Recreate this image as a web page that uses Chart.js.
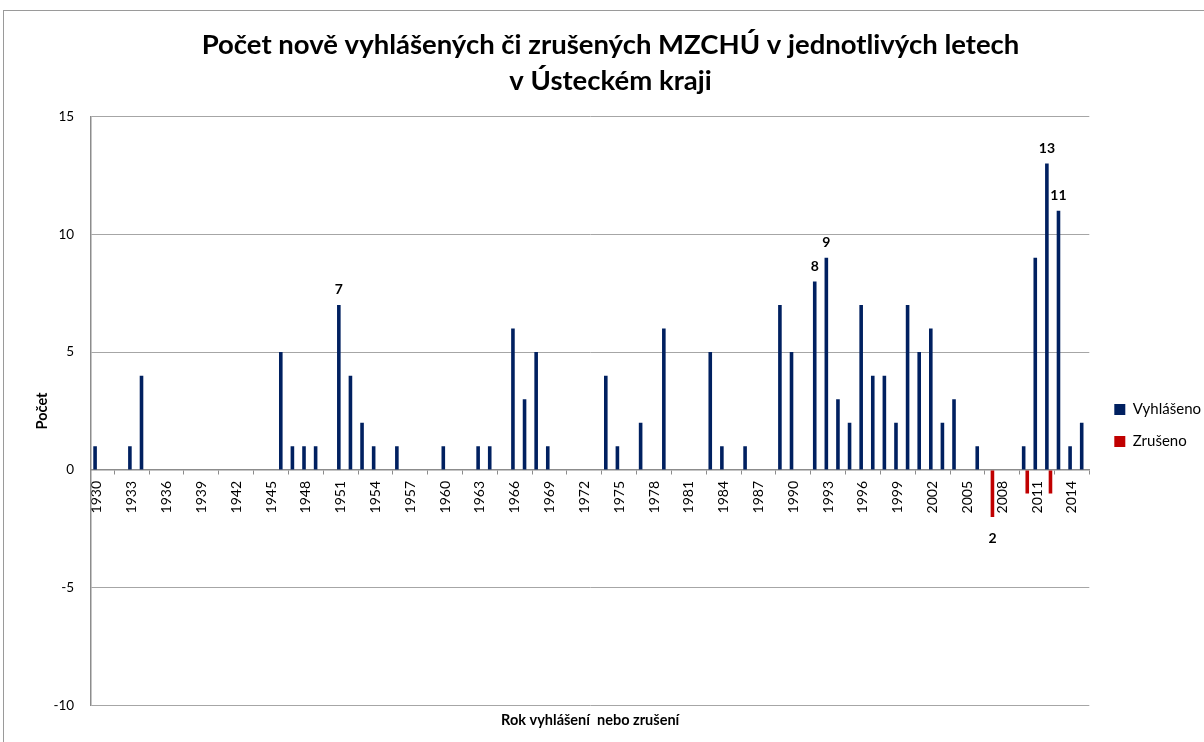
<!DOCTYPE html>
<html lang="cs">
<head>
<meta charset="utf-8">
<title>MZCHÚ Ústecký kraj</title>
<script src="https://cdn.jsdelivr.net/npm/chart.js@4.4.1/dist/chart.umd.min.js"></script>
<style>
  html, body { margin: 0; padding: 0; overflow: hidden; background: #fff; }
  #frame { position: absolute; left: 3px; top: 10px; width: 1300px; height: 800px; border: 1px solid #9a9a9a; }
  #chart { position: absolute; left: 0; top: 0; }
</style>
</head>
<body>
<div id="frame"></div>
<canvas id="chart" width="1204" height="742"></canvas>
<script>
// years 1930 - 2015
const years = [
  1930, 1931, 1932, 1933, 1934, 1935, 1936, 1937, 1938, 1939,
  1940, 1941, 1942, 1943, 1944, 1945, 1946, 1947, 1948, 1949,
  1950, 1951, 1952, 1953, 1954, 1955, 1956, 1957, 1958, 1959,
  1960, 1961, 1962, 1963, 1964, 1965, 1966, 1967, 1968, 1969,
  1970, 1971, 1972, 1973, 1974, 1975, 1976, 1977, 1978, 1979,
  1980, 1981, 1982, 1983, 1984, 1985, 1986, 1987, 1988, 1989,
  1990, 1991, 1992, 1993, 1994, 1995, 1996, 1997, 1998, 1999,
  2000, 2001, 2002, 2003, 2004, 2005, 2006, 2007, 2008, 2009,
  2010, 2011, 2012, 2013, 2014, 2015
];

const vyhlaseno = [
  1, 0, 0, 1, 4, 0, 0, 0, 0, 0,
  0, 0, 0, 0, 0, 0, 5, 1, 1, 1,
  0, 7, 4, 2, 1, 0, 1, 0, 0, 0,
  1, 0, 0, 1, 1, 0, 6, 3, 5, 1,
  0, 0, 0, 0, 4, 1, 0, 2, 0, 6,
  0, 0, 0, 5, 1, 0, 1, 0, 0, 7,
  5, 0, 8, 9, 3, 2, 7, 4, 4, 2,
  7, 5, 6, 2, 3, 0, 1, 0, 0, 0,
  1, 9, 13, 11, 1, 2
];

const zruseno = [
  0, 0, 0, 0, 0, 0, 0, 0, 0, 0,
  0, 0, 0, 0, 0, 0, 0, 0, 0, 0,
  0, 0, 0, 0, 0, 0, 0, 0, 0, 0,
  0, 0, 0, 0, 0, 0, 0, 0, 0, 0,
  0, 0, 0, 0, 0, 0, 0, 0, 0, 0,
  0, 0, 0, 0, 0, 0, 0, 0, 0, 0,
  0, 0, 0, 0, 0, 0, 0, 0, 0, 0,
  0, 0, 0, 0, 0, 0, 0, -2, 0, 0,
  -1, 0, -1, 0, 0, 0
];

// years whose value is written next to the bar
const vyhlasenoLabelYears = [1951, 1992, 1993, 2012, 2013];
const zrusenoLabelYears = [2007];

const yTicks = [-10, -5, 0, 5, 10, 15];

const FONT = "Lato, 'Open Sans', sans-serif";

// value labels above / below the chosen bars
const barLabels = {
  id: 'barLabels',
  afterDatasetsDraw(chart) {
    const ctx = chart.ctx;
    ctx.save();
    ctx.font = 'bold 14px ' + FONT;
    ctx.fillStyle = '#000';
    ctx.textAlign = 'center';
    ctx.textBaseline = 'middle';
    const chosen = [vyhlasenoLabelYears, zrusenoLabelYears];
    chart.data.datasets.forEach((ds, di) => {
      const meta = chart.getDatasetMeta(di);
      meta.data.forEach((bar, i) => {
        if (!chosen[di].includes(years[i])) return;
        const v = ds.data[i];
        const y = v >= 0 ? bar.y - 15 : bar.y + 21;
        ctx.fillText(String(Math.abs(v)), bar.x, y);
      });
    });
    ctx.restore();
  }
};

// the legend sits a bit lower and further right than chart.js puts it
const legendNudge = {
  id: 'legendNudge',
  afterLayout(chart) {
    const lg = chart.legend;
    if (!lg) return;
    lg.left += 8; lg.right += 8;
    lg.top += 60; lg.bottom += 60;
  }
};

const ctx = document.getElementById('chart').getContext('2d');
const chart = new Chart(ctx, {
  type: 'bar',
  data: {
    labels: years,
    datasets: [
      {
        label: 'Vyhlášeno',
        data: vyhlaseno,
        backgroundColor: '#002060',
        categoryPercentage: 0.62,
        barPercentage: 1.0
      },
      {
        label: 'Zrušeno',
        data: zruseno,
        backgroundColor: '#c00000',
        categoryPercentage: 0.62,
        barPercentage: 1.0
      }
    ]
  },
  options: {
    responsive: false,
    animation: false,
    devicePixelRatio: 1,
    layout: { padding: { left: 18, right: 1, top: 0, bottom: 11 } },
    plugins: {
      title: {
        display: true,
        text: ['Počet nově vyhlášených či zrušených MZCHÚ v jednotlivých letech', 'v Ústeckém kraji'],
        font: { family: FONT, size: 27.5, weight: 'bold', lineHeight: 1.28 },
        color: '#000',
        padding: { top: 28, bottom: 18 }
      },
      legend: {
        position: 'right',
        labels: {
          font: { family: FONT, size: 15 },
          color: '#000',
          boxWidth: 11,
          boxHeight: 11,
          padding: 17
        }
      },
      tooltip: { enabled: false }
    },
    scales: {
      x: {
        type: 'category',
        position: { y: 0 },
        grid: { drawOnChartArea: false, drawTicks: true, tickLength: 4, color: '#8c8c8c' },
        border: { color: '#8c8c8c', width: 1.5 },
        ticks: {
          autoSkip: false,
          maxRotation: 90,
          minRotation: 90,
          padding: 7,
          font: { family: FONT, size: 14 },
          color: '#000',
          callback: function (val, index) {
            return index % 3 === 0 ? this.getLabelForValue(val) : null;
          }
        }
      },
      x2: {
        type: 'category',
        position: 'bottom',
        labels: years,
        grid: { display: false },
        border: { display: false },
        ticks: { display: false },
        title: {
          display: true,
          text: 'Rok vyhlášení  nebo zrušení',
          font: { family: FONT, size: 14.5, weight: 'bold' },
          color: '#000',
          padding: { top: -2, bottom: 2 }
        }
      },
      y: {
        min: yTicks[0],
        max: yTicks[yTicks.length - 1],
        afterBuildTicks: (axis) => { axis.ticks = yTicks.map(v => ({ value: v })); },
        grid: { color: '#a6a6a6', drawTicks: false },
        border: { color: '#8c8c8c', width: 1.5 },
        ticks: {
          padding: 17,
          font: { family: FONT, size: 13.5 },
          color: '#000'
        },
        title: {
          display: true,
          text: 'Počet',
          font: { family: FONT, size: 14.5, weight: 'bold' },
          color: '#000',
          padding: { top: 16, bottom: -15 }
        }
      }
    }
  },
  plugins: [barLabels, legendNudge]
});
</script>
</body>
</html>
